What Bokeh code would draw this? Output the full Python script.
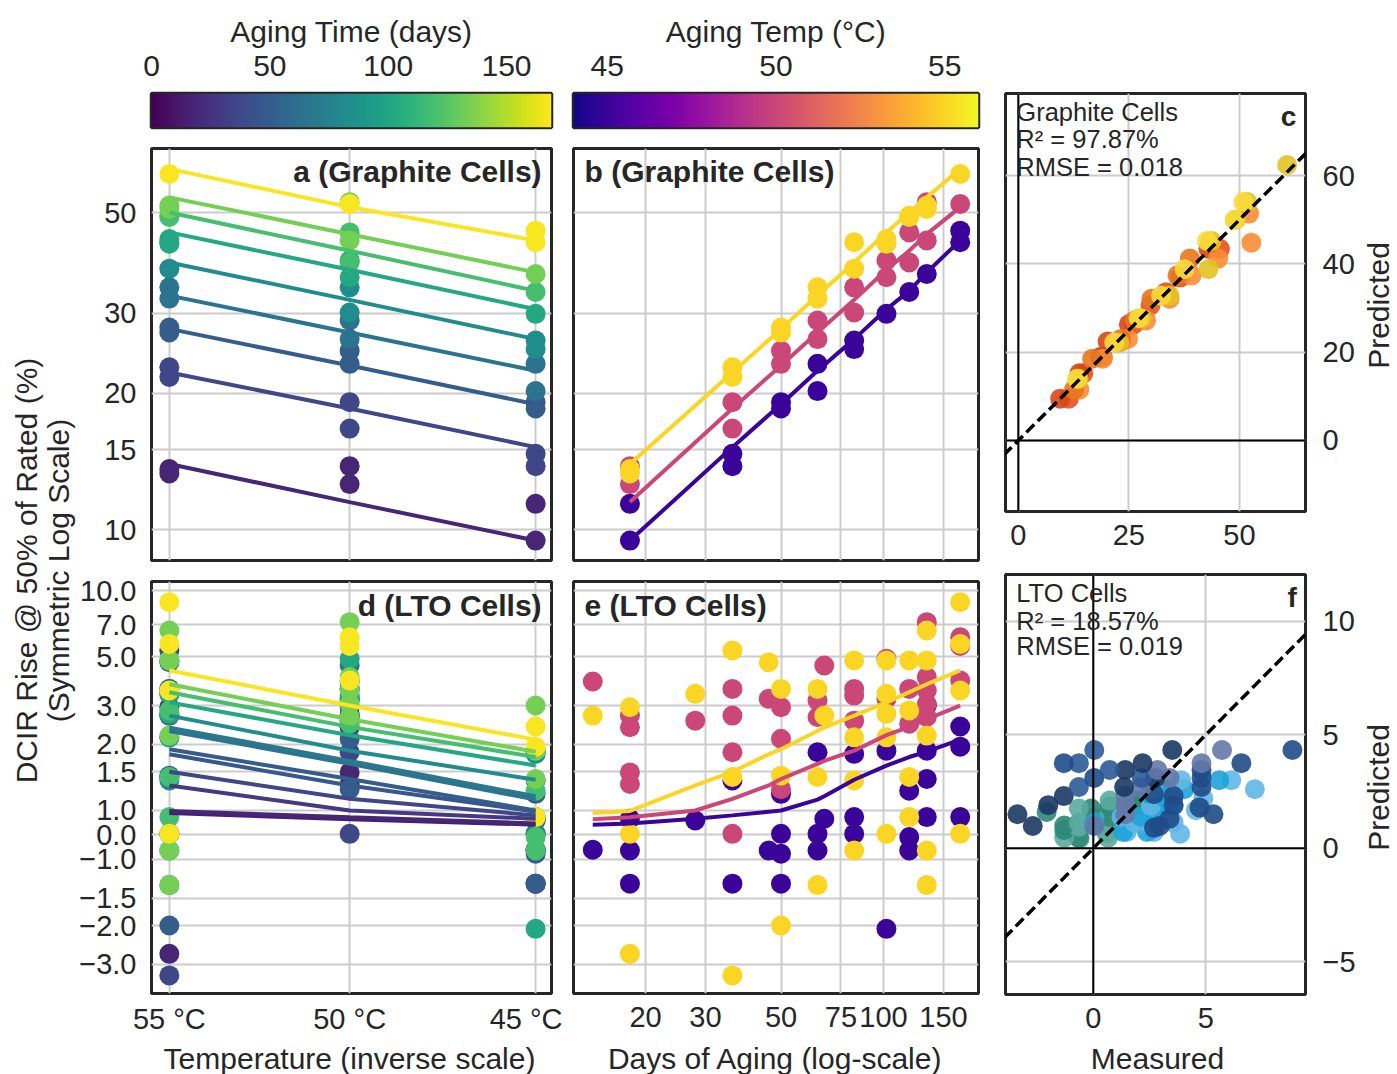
import numpy as np
from bokeh.plotting import figure
from bokeh.layouts import row, column
from bokeh.models import (FixedTicker, CustomJSTickFormatter, LinearColorMapper,
                          Span, Slope, Label, Range1d, Spacer)
from bokeh.palettes import Viridis256, Plasma256
from bokeh.embed import file_html
from bokeh.resources import INLINE

FONT = "Liberation Sans"
INK = "#262626"

# ---------------- data ----------------
temps = [55, 50, 45]

# Graphite cells: measured DCIR rise (%) per aging day, per temperature
gr_days = [18, 36, 50, 64, 82, 102, 119, 134, 168]
gr_meas_55 = [[13.6, 13.3], [22.8, 21.7], [27.9, 27.2], [34.2, 32.3], [43.0, 37.6],
              [43.7, 42.7], [49.2, 48.9], [51.8, 50.9], [60.8]]
gr_meas_50 = [[13.8, 12.6], [19.1, 16.7], [24.8, 23.2], [28.9, 26.3], [34.2, 30.1],
              [39.2, 36.0], [45.2, 38.8], [52.7, 43.4], [52.2]]
gr_meas_45 = [[11.4, 9.46], [14.7, 13.8], [19.1, 18.5], [23.2, 20.2], [26.1, 25.0],
              [29.9], [33.4], [36.6], [45.6, 43.0]]
# model (fitted) values
gr_fit_55 = [13.95, 22.2, 27.7, 32.8, 38.8, 45.2, 50.0, 54.0, 62.4]
gr_fit_50 = [11.5, 18.5, 23.0, 27.2, 32.1, 37.4, 41.2, 44.8, 51.4]
gr_fit_45 = [9.46, 15.2, 18.9, 22.4, 26.3, 30.6, 33.6, 36.9, 43.4]

# LTO cells
lto_days = [14, 18, 28, 36, 46, 50, 64, 67, 82, 102, 119, 134, 168]
lto_meas_55 = [[2.70], [2.95, 0.045, -2.69], [3.39], [5.34, 1.42, -3.37], [4.72],
               [3.57, 1.44, -2.0], [3.57, 1.42, -1.31], [2.70], [4.81, 2.15, 1.37, -0.64],
               [4.81, 3.39, 2.75, 2.15, 0.045], [4.81, 2.85, 1.42, 0.73],
               [6.58, 4.81, 2.19, -0.64, -1.31], [8.85, 5.72, 3.51, 0.045]]
lto_meas_50 = [[3.86], [2.70, 2.39, 1.49, 1.32], [2.56], [3.57, 2.70, 1.84, 0.045], [3.22],
               [2.95, 2.12, 1.25], [3.16, 2.66], [4.56], [3.57, 3.33, 2.56], [4.89, 3.22],
               [3.57, 2.48], [7.18, 4.04, 3.51, 3.05, 2.66], [6.13, 5.6, 3.90]]
lto_meas_45 = [[-0.61], [0.66, -0.64, -1.29], [0.59], [1.37, -1.29], [-0.64],
               [1.19, 0.045, -0.77, -1.29], [1.84, 0.045, -0.64], [0.66],
               [1.81, 0.73, 0.045], [1.87, -2.07], [1.23, -0.09, -0.64],
               [3.0, 1.87, 1.39, 0.73], [2.41, 1.95, 0.73]]
lto_fit_55 = [0.9, 0.98, 1.3, 1.5, 1.8, 1.9, 2.3, 2.38, 2.7, 3.1, 3.45, 3.75, 4.33]
lto_fit_50 = [0.64, 0.72, 1.0, 1.13, 1.3, 1.39, 1.63, 1.68, 1.87, 2.2, 2.4, 2.6, 3.0]
lto_fit_45 = [0.42, 0.47, 0.66, 0.8, 0.95, 1.0, 1.12, 1.16, 1.38, 1.6, 1.75, 1.85, 2.1]

gr_meas = {55: gr_meas_55, 50: gr_meas_50, 45: gr_meas_45}
gr_fit = {55: gr_fit_55, 50: gr_fit_50, 45: gr_fit_45}
lto_meas = {55: lto_meas_55, 50: lto_meas_50, 45: lto_meas_45}
lto_fit = {55: lto_fit_55, 50: lto_fit_50, 45: lto_fit_45}

# colour bars / ticks / texts
cb_days_range = [0, 169]
cb_days_ticks = [0, 50, 100, 150]
cb_temp_range = [44, 56]
cb_temp_ticks = [45, 50, 55]
gr_y_ticks = [10, 15, 20, 30, 50]
lto_y_ticks = [10.0, 7.0, 5.0, 3.0, 2.0, 1.5, 1.0, 0.0, -1.0, -1.5, -2.0, -3.0]
days_ticks = [20, 30, 50, 75, 100, 150]
c_x_ticks = [0, 25, 50]
c_y_ticks = [0, 20, 40, 60]
f_x_ticks = [0, 5]
f_y_ticks = [-5, 0, 5, 10]
stats_c = ["Graphite Cells", "R\u00b2 = 97.87%", "RMSE = 0.018"]
stats_f = ["LTO Cells", "R\u00b2 = 18.57%", "RMSE = 0.019"]

c_colors = {55: ["#e3c322", "#f8da3a"], 50: ["#f98c35", "#e6771d"], 45: ["#e6521e", "#d8461a"]}
f_colors = {55: ["#1f4b88", "#6478a9", "#1b3864", "#2a5a98", "#1f4b88"],
            50: ["#5fb6e6", "#1ea3da", "#5fb6e6", "#1ea3da", "#5fb6e6"],
            45: ["#5aab9f", "#2e8777", "#5aab9f", "#2e8777"]}

LIN = 0.111  # symlog linear-region scale


def symlog(v):
    a = abs(v)
    return float(np.sign(v) * (LIN + np.log10(a))) if a >= 1 else v * LIN


def inv_t(T):
    return 1000.0 / (T + 273.15)


def vcolor(day):
    f = (day - cb_days_range[0]) / (cb_days_range[1] - cb_days_range[0])
    return Viridis256[int(round(min(max(f, 0), 1) * 255))]


def pcolor(t):
    f = (t - cb_temp_range[0]) / (cb_temp_range[1] - cb_temp_range[0])
    return Plasma256[int(round(min(max(f, 0), 1) * 255))]


# ---------------- helpers ----------------
def make_fig(w, h, borders, xr, yr, **kw):
    l, r, t, b = borders
    p = figure(width=w, height=h, x_range=xr, y_range=yr, toolbar_location=None,
               output_backend="svg", min_border_left=l, min_border_right=r,
               min_border_top=t, min_border_bottom=b, **kw)
    p.outline_line_color = INK
    p.outline_line_width = 3
    p.background_fill_color = "white"
    p.border_fill_color = "white"
    for ax in p.axis:
        ax.axis_line_color = None
        ax.major_tick_line_color = None
        ax.minor_tick_line_color = None
        ax.major_label_text_font = FONT
        ax.major_label_text_font_size = "29px"
        ax.major_label_text_color = INK
        ax.axis_label_text_font = FONT
        ax.axis_label_text_font_size = "29px"
        ax.axis_label_text_font_style = "normal"
        ax.axis_label_text_color = INK
        ax.major_label_standoff = 9
        ax.axis_label_standoff = 12
    for g in p.grid:
        g.grid_line_color = "#cccccc"
        g.grid_line_width = 2
    return p


def set_ticks(p, xt=None, yt=None):
    if xt is not None:
        t = FixedTicker(ticks=list(xt))
        p.xaxis.ticker = t
        p.xgrid.ticker = t
    if yt is not None:
        t = FixedTicker(ticks=list(yt))
        p.yaxis.ticker = t
        p.ygrid.ticker = t


def add_text(p, x, y, text, size="30px", bold=False, align="left"):
    p.add_layout(Label(x=x, y=y, text=text, text_font=FONT, text_font_size=size,
                       text_font_style="bold" if bold else "normal", text_color=INK,
                       text_align=align, text_baseline="middle"))


def label_fig(w, h, items, angle=0.0):
    p = figure(width=w, height=h, x_range=Range1d(0, w), y_range=Range1d(0, h),
               toolbar_location=None, output_backend="svg", min_border_left=0,
               min_border_right=0, min_border_top=0, min_border_bottom=0,
               x_axis_location=None, y_axis_location=None)
    p.outline_line_color = None
    p.grid.visible = False
    for x, y, txt in items:
        p.add_layout(Label(x=x, y=y, text=txt, angle=angle, text_align="center",
                           text_baseline="middle", text_font=FONT, text_font_size="30px",
                           text_color=INK))
    return p


def title_strip(total_w, h, center, text):
    # a label figure centred on `center` (px from the column's left edge)
    half = int(min(center, total_w - center))
    left = int(center - half)
    fig = label_fig(2 * half, h, [(half, 16, text)])
    parts = []
    if left > 0:
        parts.append(Spacer(width=left, height=h))
    parts.append(fig)
    rest = total_w - left - 2 * half
    if rest > 0:
        parts.append(Spacer(width=rest, height=h))
    return row(*parts)


int_fmt = CustomJSTickFormatter(code="return tick.toFixed(0).replace('-', '\u2212');")
temp_fmt = CustomJSTickFormatter(code="return Math.round(1000/tick - 273.15) + ' \u00b0C';")
sym_fmt = CustomJSTickFormatter(code="""
const L = %f;
const a = Math.abs(tick);
const v = a <= L + 1e-9 ? tick / L : Math.sign(tick) * Math.pow(10, a - L);
let s = (Math.round(v * 10) / 10).toFixed(1);
if (s === '-0.0') s = '0.0';
return s.replace('-', '\u2212');
""" % LIN)

# layout geometry (page px)
W_LAB, W1, W2, W3, W_RLAB = 76, 486, 431, 365, 38
B1 = (72, 11)
B2 = (11, 15)
B3 = (12, 49)
H_TOTAL = 1074
H_CB, H_TOP = 137, 433
H_BOT, H_BLAB = 473, 31          # d / e figures and the strip holding their x titles
H_C, H_F, H_FLAB = 563, 478, 33

# ---------------- colour bars ----------------
def colorbar(w, borders, rng, ticks, palette, title):
    l, r = borders
    p = make_fig(w, H_CB, (l, r, 93, 10), Range1d(*rng), Range1d(0, 1),
                 x_axis_location="above", y_axis_location=None)
    grad = np.linspace(rng[0], rng[1], 256)[None, :]
    mapper = LinearColorMapper(palette=palette, low=rng[0], high=rng[1])
    p.image(image=[grad], x=rng[0], y=0, dw=rng[1] - rng[0], dh=1, color_mapper=mapper)
    p.grid.visible = False
    p.xaxis.ticker = FixedTicker(ticks=ticks)
    p.xaxis.axis_label = title
    p.xaxis.major_label_text_font_size = "30px"
    p.xaxis.axis_label_text_font_size = "30px"
    p.xaxis.major_label_standoff = 12
    p.xaxis.axis_label_standoff = 5
    p.outline_line_width = 3.5
    return p


cb1 = colorbar(W1, B1, cb_days_range, cb_days_ticks, Viridis256, "Aging Time (days)")
cb2 = colorbar(W2, B2, cb_temp_range, cb_temp_ticks, Plasma256, "Aging Temp (\u00b0C)")

# ---------------- panel a ----------------
pa = make_fig(W1, H_TOP, (B1[0], B1[1], 11, 10), Range1d(3.04272, 3.14732),
              Range1d(8.55, 69.2), y_axis_type="log")
set_ticks(pa, [inv_t(T) for T in temps], gr_y_ticks)
pa.xaxis.visible = False
pa.yaxis.formatter = int_fmt
xs, ys, cs = [], [], []
for T in temps:
    for di, d in enumerate(gr_days):
        for v in gr_meas[T][di]:
            xs.append(inv_t(T)); ys.append(v); cs.append(vcolor(d))
pa.scatter(xs, ys, size=20, fill_color=cs, line_color=None)
pa.multi_line([[inv_t(T) for T in temps] for _ in gr_days],
              [[gr_fit[T][di] for T in temps] for di in range(len(gr_days))],
              line_color=[vcolor(d) for d in gr_days], line_width=4)
add_text(pa, 3.14473, 61.5, "a (Graphite Cells)", bold=True, align="right")

# ---------------- panel b ----------------
pb = make_fig(W2, H_TOP, (B2[0], B2[1], 11, 10), Range1d(12.29, 190.1), Range1d(8.55, 69.2),
              x_axis_type="log", y_axis_type="log")
set_ticks(pb, days_ticks, gr_y_ticks)
pb.xaxis.visible = False
pb.yaxis.visible = False
xs, ys, cs = [], [], []
for T in [45, 50, 55]:
    for di, d in enumerate(gr_days):
        for v in gr_meas[T][di]:
            xs.append(d); ys.append(v); cs.append(pcolor(T))
pb.scatter(xs, ys, size=20, fill_color=cs, line_color=None)
for T in [45, 50, 55]:
    pb.line(gr_days, gr_fit[T], line_color=pcolor(T), line_width=4)
add_text(pb, 13.24, 61.5, "b (Graphite Cells)", bold=True, align="left")

# ---------------- panel d ----------------
pd_ = make_fig(W1, H_BOT, (B1[0], B1[1], 11, 50), Range1d(3.04272, 3.14732),
               Range1d(-0.721, 1.152))
set_ticks(pd_, [inv_t(T) for T in temps], [symlog(v) for v in lto_y_ticks])
pd_.xaxis.formatter = temp_fmt
pd_.yaxis.formatter = sym_fmt
pd_.xaxis.major_label_standoff = 3
xs, ys, cs = [], [], []
for T in temps:
    for di, d in enumerate(lto_days):
        for v in lto_meas[T][di]:
            xs.append(inv_t(T)); ys.append(symlog(v)); cs.append(vcolor(d))
pd_.scatter(xs, ys, size=20, fill_color=cs, line_color=None)
pd_.multi_line([[inv_t(T) for T in temps] for _ in lto_days],
               [[symlog(lto_fit[T][di]) for T in temps] for di in range(len(lto_days))],
               line_color=[vcolor(d) for d in lto_days], line_width=4)
add_text(pd_, 3.14473, 1.0428, "d (LTO Cells)", bold=True, align="right")

# ---------------- panel e ----------------
pe = make_fig(W2, H_BOT, (B2[0], B2[1], 11, 50), Range1d(12.29, 190.1), Range1d(-0.721, 1.152),
              x_axis_type="log")
set_ticks(pe, days_ticks, [symlog(v) for v in lto_y_ticks])
pe.yaxis.visible = False
pe.xaxis.formatter = int_fmt
pe.xaxis.major_label_standoff = 7
xs, ys, cs = [], [], []
for T in [45, 50, 55]:
    for di, d in enumerate(lto_days):
        for v in lto_meas[T][di]:
            xs.append(d); ys.append(symlog(v)); cs.append(pcolor(T))
pe.scatter(xs, ys, size=20, fill_color=cs, line_color=None)
for T in [45, 50, 55]:
    pe.line(lto_days, [symlog(v) for v in lto_fit[T]], line_color=pcolor(T), line_width=4)
add_text(pe, 13.24, 1.0428, "e (LTO Cells)", bold=True, align="left")

# ---------------- panel c ----------------
pc = make_fig(W3, H_C, (B3[0], B3[1], 93, 52), Range1d(-2.9, 64.95), Range1d(-16.1, 78.6),
              y_axis_location="right")
set_ticks(pc, c_x_ticks, c_y_ticks)
pc.xaxis.formatter = int_fmt
pc.yaxis.formatter = int_fmt
pc.xaxis.major_label_standoff = 7
pc.yaxis.major_label_standoff = 11
pc.add_layout(Span(location=0, dimension="height", line_color="black", line_width=2))
pc.add_layout(Span(location=0, dimension="width", line_color="black", line_width=2))
xs, ys, cs = [], [], []
for T in [45, 50, 55]:
    for di, d in enumerate(gr_days):
        for k, v in enumerate(gr_meas[T][di]):
            xs.append(v); ys.append(gr_fit[T][di]); cs.append(c_colors[T][k % len(c_colors[T])])
pc.scatter(xs, ys, size=20, fill_color=cs, line_color=None, fill_alpha=0.9)
pc.add_layout(Slope(gradient=1, y_intercept=0, line_color="black", line_width=3.5, line_dash="11 5"))
for i, s in enumerate(stats_c):
    add_text(pc, -0.45, [74.3, 68.2, 62.0][i], s, size="25.5px")
add_text(pc, 62.9, 73.4, "c", bold=True, align="right", size="28px")

# ---------------- panel f ----------------
pf = make_fig(W3, H_F, (B3[0], B3[1], 11, 47), Range1d(-3.9, 9.43), Range1d(-6.45, 12.07),
              y_axis_location="right")
set_ticks(pf, f_x_ticks, f_y_ticks)
pf.xaxis.formatter = int_fmt
pf.yaxis.formatter = int_fmt
pf.xaxis.major_label_standoff = 7
pf.yaxis.major_label_standoff = 11
pf.add_layout(Span(location=0, dimension="height", line_color="black", line_width=2))
pf.add_layout(Span(location=0, dimension="width", line_color="black", line_width=2))
xs, ys, cs = [], [], []
for T in [45, 50, 55]:
    for di, d in enumerate(lto_days):
        for k, v in enumerate(lto_meas[T][di]):
            xs.append(v); ys.append(lto_fit[T][di]); cs.append(f_colors[T][k % len(f_colors[T])])
pf.scatter(xs, ys, size=20, fill_color=cs, line_color=None, fill_alpha=0.9)
pf.add_layout(Slope(gradient=1, y_intercept=0, line_color="black", line_width=3.5, line_dash="11 5"))
for i, s in enumerate(stats_f):
    add_text(pf, -3.42, [11.24, 10.04, 8.90][i], s, size="25.5px")
add_text(pf, 9.04, 11.06, "f", bold=True, align="right", size="28px")

# ---------------- outer axis titles ----------------
lab = label_fig(W_LAB, H_TOTAL, [(26, H_TOTAL - 570, "DCIR Rise @ 50% of Rated (%)"),
                                 (58, H_TOTAL - 570, "(Symmetric Log Scale)")], angle=np.pi / 2)
rlab = label_fig(W_RLAB, H_TOTAL, [(20, H_TOTAL - 305, "Predicted"),
                                   (20, H_TOTAL - 787, "Predicted")], angle=np.pi / 2)
blab1 = title_strip(W1, H_BLAB, B1[0] + 201.5, "Temperature (inverse scale)")
blab2 = title_strip(W2, H_BLAB, B2[0] + 202.5, "Days of Aging (log-scale)")
blab3 = title_strip(W3, H_FLAB, B3[0] + 152, "Measured")

layout = row(lab, column(cb1, pa, pd_, blab1), column(cb2, pb, pe, blab2),
             column(pc, pf, blab3), rlab)
open("out.html", "w").write(file_html(layout, INLINE))
